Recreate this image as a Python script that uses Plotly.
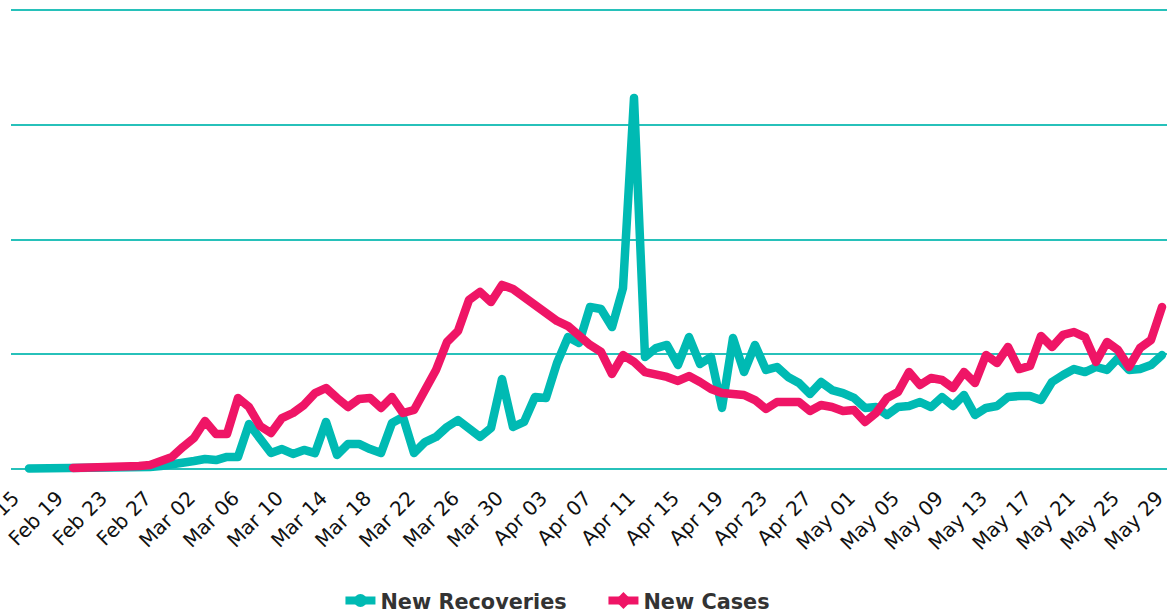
import pandas as pd
import plotly.graph_objects as go

# Daily dates (categories)
recov_dates = pd.date_range("2020-02-16", "2020-05-29", freq="D")
cases_dates = pd.date_range("2020-02-20", "2020-05-29", freq="D")

new_recoveries = [
    5, 5, 5, 5, 5, 5, 5, 5, 5,            # Feb 16 - Feb 24
    9, 9, 17, 26, 35,                      # Feb 25 - Feb 29
    44, 70, 87, 78, 105, 105, 392, 270, 139, 174,   # Mar 01 - Mar 10
    131, 166, 139, 410, 122, 218, 218, 174, 139, 401,  # Mar 11 - Mar 20
    453, 139, 235, 279, 366, 427, 357, 279, 357, 784, 366,  # Mar 21 - Mar 31
    410, 627, 619, 924, 1150, 1098, 1412, 1394, 1237, 1577,  # Apr 01 - Apr 10
    3233, 976, 1054, 1081, 906, 1150, 915, 976, 532, 1142,  # Apr 11 - Apr 20
    845, 1081, 863, 889, 802, 749, 654, 758, 688, 662,      # Apr 21 - Apr 30
    619, 532, 540, 471, 540, 549, 584, 540, 627, 549,       # May 01 - May 10
    645, 471, 532, 549, 627, 636, 636, 601, 758, 819,       # May 11 - May 20
    871, 845, 889, 863, 967, 863, 871, 906, 993,            # May 21 - May 29
]

new_cases = [
    9, 9, 9, 13, 17, 22, 26, 35, 70, 105,                   # Feb 20 - Feb 29
    192, 270, 418, 305, 305, 619, 540, 375, 314, 444,       # Mar 01 - Mar 10
    488, 558, 662, 706, 619, 540, 610, 619, 532, 627,       # Mar 11 - Mar 20
    488, 514, 688, 863, 1107, 1203, 1473, 1543, 1455, 1604, 1569,  # Mar 21 - Mar 31
    1499, 1447, 1368, 1290, 1246, 1159, 1081, 1020, 828, 993,  # Apr 01 - Apr 10
    933, 845, 828, 802, 767, 810, 758, 697, 662, 645,       # Apr 11 - Apr 20
    645, 601, 523, 584, 575, 584, 505, 558, 540, 505,       # Apr 21 - Apr 30
    514, 410, 488, 619, 671, 845, 732, 793, 776, 706,       # May 01 - May 10
    845, 749, 993, 924, 1063, 871, 898, 1159, 1063, 1168,   # May 11 - May 20
    1194, 1150, 933, 1107, 1037, 889, 1054, 1124, 1412,     # May 21 - May 29
]

series_names = ["New Recoveries", "New Cases"]
TEAL = "#00bab3"
PINK = "#ef1566"
GRID = "#27c1ba"

fig = go.Figure()
fig.add_trace(go.Scatter(x=recov_dates, y=new_recoveries, mode="lines",
                         line=dict(color=TEAL, width=8.5), showlegend=False,
                         name=series_names[0]))
fig.add_trace(go.Scatter(x=cases_dates, y=new_cases, mode="lines",
                         line=dict(color=PINK, width=8.5), showlegend=False,
                         name=series_names[1]))
# legend entries
fig.add_trace(go.Scatter(x=[None], y=[None], mode="lines+markers", name=series_names[0],
                         line=dict(color=TEAL, width=8),
                         marker=dict(symbol="circle", size=13, color=TEAL)))
fig.add_trace(go.Scatter(x=[None], y=[None], mode="lines+markers", name=series_names[1],
                         line=dict(color=PINK, width=8),
                         marker=dict(symbol="diamond", size=13, color=PINK)))

fig.update_layout(
    width=1167, height=613,
    margin=dict(l=11, r=0, t=5, b=138, autoexpand=False),
    paper_bgcolor="white", plot_bgcolor="white",
    font=dict(family="DejaVu Sans", color="#111"),
    showlegend=True,
    legend=dict(orientation="h", x=0.285, xanchor="left", y=-0.268, yanchor="middle",
                font=dict(size=20.8, color="#333", family="DejaVu Sans", weight="bold"),
                itemwidth=30, traceorder="normal",
                entrywidth=218, entrywidthmode="pixels"),
    xaxis=dict(
        type="date", automargin=False,
        range=["2020-02-14 08:43:38", "2020-05-29 10:54:33"],
        tick0="2020-02-15", dtick=4 * 86400000, tickformat="%b %d\u00a0",
        tickangle=-45, tickfont=dict(size=20, color="#111"),
        ticklabelstandoff=2, ticklabeloverflow="allow",
        showgrid=False, zeroline=False, showline=False, ticks="",
    ),
    yaxis=dict(
        automargin=False,
        range=[-52.3, 4043.6], tick0=0, dtick=1000,
        showgrid=True, gridcolor=GRID, gridwidth=2,
        zeroline=False, showticklabels=False, ticks="",
    ),
)

post = ("document.body.style.margin='0';document.body.style.overflow='hidden';"
        "document.querySelectorAll('.scatterlayer .js-line').forEach(function(p){"
        "p.style.strokeLinecap='round';p.style.strokeLinejoin='round';});")
fig.write_html("out.html", post_script=post, config={"displayModeBar": False})
